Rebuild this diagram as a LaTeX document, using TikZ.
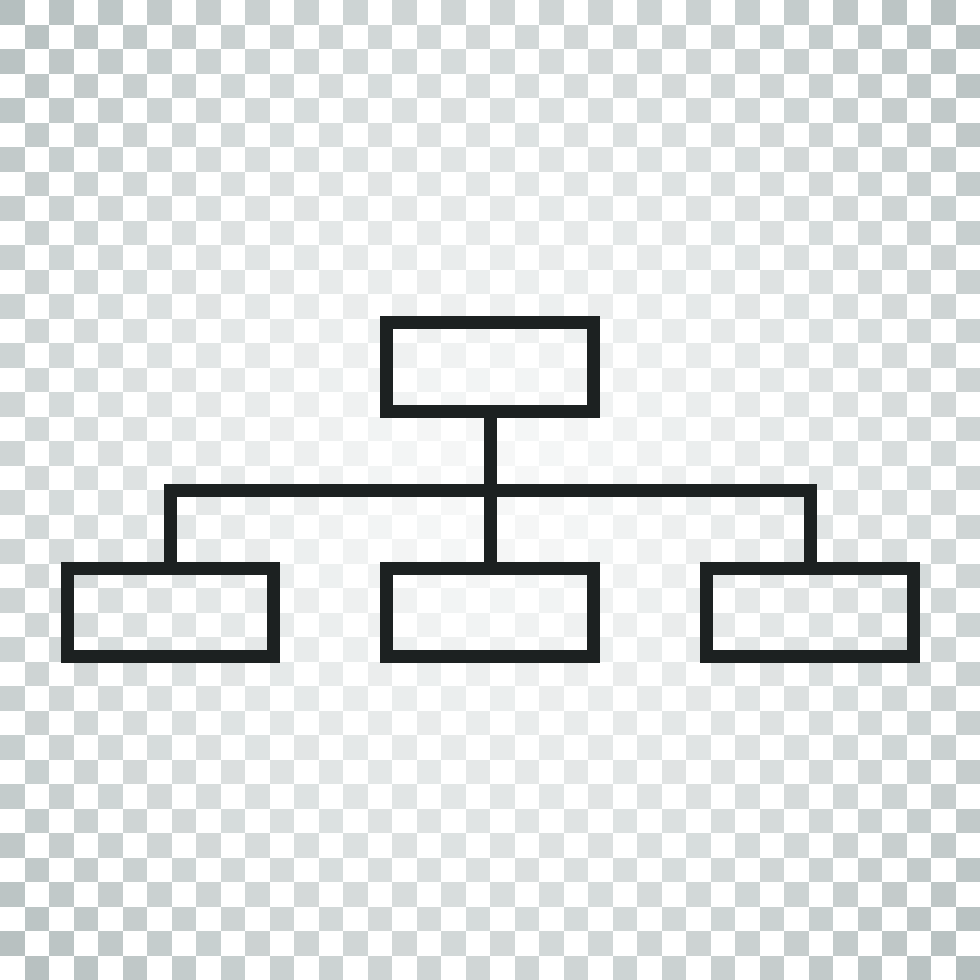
\documentclass[tikz,border=0pt]{standalone}
\usetikzlibrary{positioning}

\definecolor{chk}{RGB}{170,181,181}
\definecolor{ink}{RGB}{28,33,33}

\begin{document}
\begin{tikzpicture}[x=0.025cm, y=-0.025cm, line cap=butt,
    box/.style={draw=ink, line width=0.325cm, rectangle, minimum width=5.15cm,
                minimum height=2.2cm, inner sep=0pt, outer sep=0pt},
    wire/.style={draw=ink, line width=0.325cm, line join=miter}]

    \useasboundingbox (0,0) rectangle (980,980);
    \fill[white] (0,0) rectangle (980,980);

    % checkerboard, lighter towards the middle
    \foreach \i in {0,...,39}{
        \foreach \j in {0,...,39}{
            \pgfmathtruncatemacro{\odd}{mod(\i+\j,2)}
            \ifnum\odd=0
                \pgfmathsetmacro{\pct}{min(100,100*(0.1+0.8*(veclen(24.5*\i+12.25-490,24.5*\j+12.25-490)/693)^1.5))}
                \colorlet{tilec}{chk!\pct!white}
                \fill[tilec] (24.5*\i,24.5*\j) rectangle ++(24.5,24.5);
            \fi
        }
    }

    \coordinate (bar) at (490,490);

    \node[box] (top) at (490,367) {};
    \node[box] (lft) at (170.5,612.5) {};
    \node[box] (mid) at (490,612.5) {};
    \node[box] (rgt) at (810,612.5) {};

    \draw[wire] (top.south) -- (mid.north);
    \draw[wire] (lft.north) |- (bar) -| (rgt.north);

\end{tikzpicture}
\end{document}
